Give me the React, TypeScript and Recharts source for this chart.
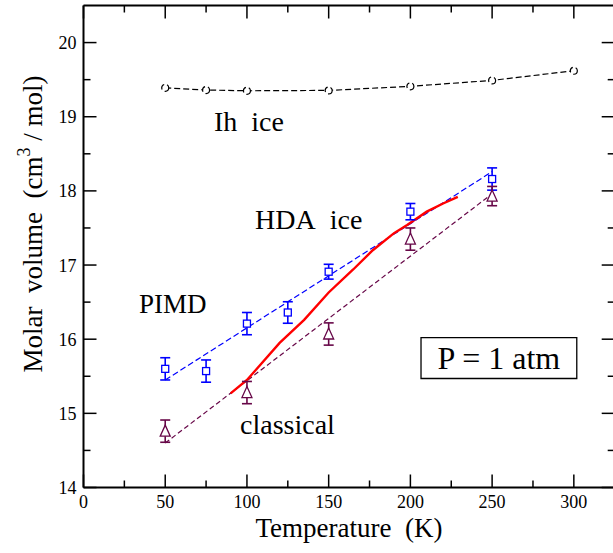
import React from "react";
import {
  ComposedChart,
  Line,
  Scatter,
  ErrorBar,
  XAxis,
  YAxis,
  ReferenceArea,
  Customized,
} from "recharts";

// Ih ice (open circles, black dashed)
const ihT = [50, 75, 100, 150, 200, 250, 300];
const ihV = [19.39, 19.36, 19.35, 19.355, 19.41, 19.49, 19.62];

// PIMD HDA ice (blue squares + error bars)
const pimdT = [50, 75, 100, 125, 150, 200, 250];
const pimdV = [15.6, 15.57, 16.21, 16.36, 16.91, 17.72, 18.16];
const pimdErr = [0.15, 0.15, 0.15, 0.145, 0.1, 0.11, 0.15];
const pimdFitT = [50, 250];
const pimdFitV = [15.45, 18.26];

// classical HDA ice (maroon triangles + error bars)
const classT = [50, 100, 150, 200, 250];
const classV = [14.76, 15.28, 16.07, 17.35, 17.93];
const classErr = [0.15, 0.15, 0.15, 0.15, 0.13];
const classFitT = [50, 250];
const classFitV = [14.6, 17.96];

// red solid curve
const curveT = [90, 100, 120, 135, 150, 165, 177, 190, 198, 210, 220, 229];
const curveV = [15.27, 15.45, 15.95, 16.26, 16.63, 16.94, 17.2, 17.43, 17.54, 17.72, 17.83, 17.92];

const xTicks = [0, 25, 50, 75, 100, 125, 150, 175, 200, 225, 250, 275, 300];
const yTicks = [14, 14.5, 15, 15.5, 16, 16.5, 17, 17.5, 18, 18.5, 19, 19.5, 20];

const ihData = ihT.map((T, i) => ({ T, V: ihV[i] }));
const pimdData = pimdT.map((T, i) => ({ T, V: pimdV[i], err: pimdErr[i] }));
const pimdFit = pimdFitT.map((T, i) => ({ T, V: pimdFitV[i] }));
const classData = classT.map((T, i) => ({ T, V: classV[i], err: classErr[i] }));
const classFit = classFitT.map((T, i) => ({ T, V: classFitV[i] }));
const curveData = curveT.map((T, i) => ({ T, V: curveV[i] }));

const W = 620;
const H = 553;
const PLOT = { left: 83.5, top: 5.5, right: 614.7, bottom: 487.5 };
const FONT = "'Liberation Serif', 'Times New Roman', serif";
const BLUE = "#0000ff";
const MAROON = "#670748";

const XTick = (props: any) => {
  const { payload, side } = props;
  const x = payload.coordinate;
  const major = payload.value % 50 === 0;
  const len = major ? 13 : 7;
  const y0 = side === "bottom" ? PLOT.bottom : PLOT.top;
  const dir = side === "bottom" ? -1 : 1;
  return (
    <g>
      <line x1={x} x2={x} y1={y0} y2={y0 + dir * len} stroke="#000" strokeWidth={1.5} />
      {side === "bottom" && major && (
        <text x={x} y={PLOT.bottom + 20} textAnchor="middle" fontFamily={FONT} fontSize={18} fill="#000">
          {payload.value}
        </text>
      )}
    </g>
  );
};

const YTick = (props: any) => {
  const { payload, side } = props;
  const y = payload.coordinate;
  const major = payload.value % 1 === 0;
  const len = major ? 13 : 7;
  const x0 = side === "left" ? PLOT.left : PLOT.right;
  const dir = side === "left" ? 1 : -1;
  return (
    <g>
      <line x1={x0} x2={x0 + dir * len} y1={y} y2={y} stroke="#000" strokeWidth={1.5} />
      {side === "left" && major && (
        <text x={PLOT.left - 7} y={y + 6.5} textAnchor="end" fontFamily={FONT} fontSize={18} fill="#000">
          {payload.value}
        </text>
      )}
    </g>
  );
};

const renderSquare = (p: any) => (
  <rect x={p.cx - 3.5} y={p.cy - 3.5} width={7} height={7} fill="#fff" stroke={BLUE} strokeWidth={1.3} />
);

const renderTriangle = (p: any) => (
  <path
    d={`M${p.cx},${p.cy - 6} L${p.cx + 5},${p.cy + 5} L${p.cx - 5},${p.cy + 5} Z`}
    fill="#fff"
    stroke={MAROON}
    strokeWidth={1.3}
  />
);

const Annotations = () => (
  <g fontFamily={FONT} fill="#000">
    <text x={214} y={131} fontSize={28}>Ih{"\u00a0\u00a0"}ice</text>
    <text x={255} y={229} fontSize={28}>HDA{"\u00a0\u00a0"}ice</text>
    <text x={139} y={313} fontSize={27}>PIMD</text>
    <text x={240} y={434} fontSize={28}>classical</text>
    <text x={349} y={537} fontSize={27} textAnchor="middle">
      Temperature{"\u00a0\u00a0"}(K)
    </text>
    <text x={42} y={224} fontSize={27} textAnchor="middle" transform="rotate(-90 42 224)">
      Molar{"\u00a0\u00a0"}volume{"\u00a0\u00a0"}(cm
      <tspan fontSize={18} dy={-12}>3</tspan>
      <tspan dy={12}>{"\u00a0/\u00a0"}mol)</tspan>
    </text>
  </g>
);

export default function App() {
  return (
    <div style={{ position: "absolute", left: 0, top: 0, width: 613, height: 553, overflow: "hidden", background: "#fff" }}>
      <ComposedChart
        width={W}
        height={H}
        margin={{ left: PLOT.left - 60, top: PLOT.top - 1, right: W - PLOT.right - 1, bottom: H - PLOT.bottom - 60 }}
      >
        <XAxis
          type="number"
          dataKey="T"
          domain={[0, 325]}
          ticks={xTicks}
          interval={0}
          height={60}
          allowDataOverflow
          tickLine={false}
          axisLine={{ stroke: "#000", strokeWidth: 2 }}
          tick={(p: any) => <XTick {...p} side="bottom" />}
        />
        <XAxis
          xAxisId="top"
          orientation="top"
          type="number"
          dataKey="T"
          domain={[0, 325]}
          ticks={xTicks}
          interval={0}
          height={1}
          allowDataOverflow
          tickLine={false}
          axisLine={{ stroke: "#000", strokeWidth: 2 }}
          tick={(p: any) => <XTick {...p} side="top" />}
        />
        <YAxis
          type="number"
          domain={[14, 20.5]}
          ticks={yTicks}
          interval={0}
          width={60}
          allowDataOverflow
          tickLine={false}
          axisLine={{ stroke: "#000", strokeWidth: 2 }}
          tick={(p: any) => <YTick {...p} side="left" />}
        />
        <YAxis
          yAxisId="right"
          orientation="right"
          type="number"
          domain={[14, 20.5]}
          ticks={yTicks}
          interval={0}
          width={1}
          allowDataOverflow
          tickLine={false}
          axisLine={{ stroke: "#000", strokeWidth: 2 }}
          tick={(p: any) => <YTick {...p} side="right" />}
        />
        <Line
          data={ihData}
          dataKey="V"
          type="linear"
          stroke="#000"
          strokeWidth={1.2}
          strokeDasharray="6 3"
          dot={{ r: 3.5, fill: "#fff", stroke: "#000", strokeWidth: 1.2 }}
          isAnimationActive={false}
        />
        <Line
          data={pimdFit}
          dataKey="V"
          type="linear"
          stroke={BLUE}
          strokeWidth={1.2}
          strokeDasharray="6 3"
          dot={false}
          isAnimationActive={false}
        />
        <Line
          data={classFit}
          dataKey="V"
          type="linear"
          stroke={MAROON}
          strokeWidth={1.2}
          strokeDasharray="5 3"
          dot={false}
          isAnimationActive={false}
        />
        <Line
          data={curveData}
          dataKey="V"
          type="linear"
          stroke="#ff0000"
          strokeWidth={2.4}
          dot={false}
          isAnimationActive={false}
        />
        <Scatter data={pimdData} dataKey="V" shape={renderSquare} isAnimationActive={false}>
          <ErrorBar dataKey="err" direction="y" width={5} stroke={BLUE} strokeWidth={1.6} />
        </Scatter>
        <Scatter data={classData} dataKey="V" shape={renderTriangle} isAnimationActive={false}>
          <ErrorBar dataKey="err" direction="y" width={5} stroke={MAROON} strokeWidth={1.6} />
        </Scatter>
        <ReferenceArea
          x1={206.5}
          x2={301.8}
          y1={15.47}
          y2={16.02}
          fill="#fff"
          fillOpacity={1}
          stroke="#000"
          strokeWidth={1.3}
          label={{ value: "P = 1 atm", position: "center", fontSize: 32, fontFamily: FONT, fill: "#000" }}
        />
        <Customized component={Annotations} />
      </ComposedChart>
    </div>
  );
}
